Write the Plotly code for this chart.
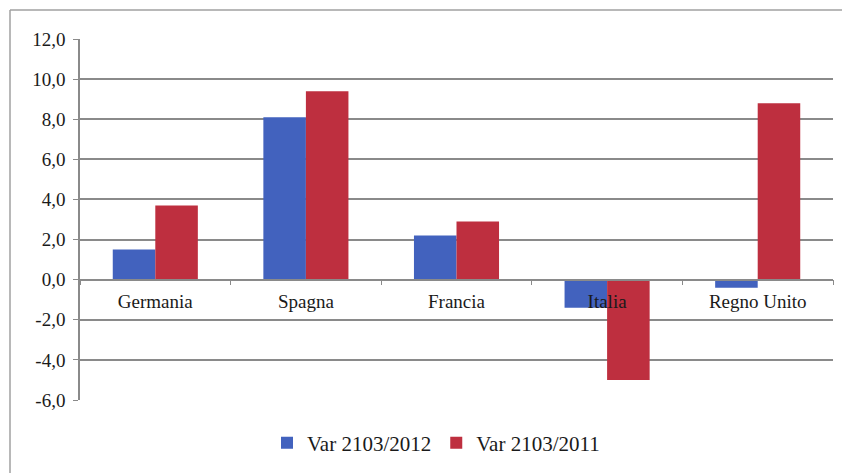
import plotly.graph_objects as go

categories = ["Germania", "Spagna", "Francia", "Italia", "Regno Unito"]
var_2012 = [1.5, 8.1, 2.2, -1.4, -0.4]
var_2011 = [3.7, 9.4, 2.9, -5.0, 8.8]
series_names = ["Var 2103/2012", "Var 2103/2011"]
y_ticks = [-6, -4, -2, 0, 2, 4, 6, 8, 10, 12]
y_ticktext = [("%.1f" % v).replace(".", ",") for v in y_ticks]

OFF = 8  # page body margin
W, H = 850 - OFF, 473 - OFF
L, T = 80 - OFF, 39 - OFF
R = W - (833 - OFF)
B = H - (400 - OFF)
pw, ph = W - L - R, H - T - B

def px_x(x):
    return (x - OFF - L) / pw

def px_y(y):
    return (H - B - (y - OFF)) / ph

fig = go.Figure()
fig.add_trace(go.Bar(x=categories, y=var_2012, name=series_names[0],
                     marker=dict(color="#4262BE", line=dict(width=0))))
fig.add_trace(go.Bar(x=categories, y=var_2011, name=series_names[1],
                     marker=dict(color="#BE2F3F", line=dict(width=0))))

font = dict(family="Liberation Serif, Times New Roman, serif", size=18, color="#1a1a1a")

fig.update_layout(
    width=W, height=H,
    margin=dict(l=L, r=R, t=T, b=B, autoexpand=False),
    paper_bgcolor="white", plot_bgcolor="white",
    font=font,
    barmode="group", bargap=0.435, bargroupgap=0,
    showlegend=True,
    legend=dict(orientation="h", x=px_x(436), xanchor="center",
                y=px_y(443), yanchor="middle", font=dict(size=21),
                itemwidth=30, tracegroupgap=0),
    xaxis=dict(anchor="free", position=1/3, showline=True, linecolor="#8a8a8a",
               linewidth=1.5, ticks="outside", tickson="boundaries", ticklen=5,
               tickcolor="#8a8a8a", showgrid=False, ticklabelstandoff=5,
               tickfont=dict(size=19)),
    yaxis=dict(range=[-6, 12], tickvals=y_ticks, ticktext=y_ticktext,
               showline=True, linecolor="#8a8a8a", linewidth=1.5,
               ticks="outside", ticklen=5, tickcolor="#8a8a8a",
               showgrid=True, gridcolor="#8a8a8a", gridwidth=1.5,
               zeroline=False, tickfont=dict(size=19), ticklabelstandoff=4),
    shapes=[
        dict(type="line", xref="paper", yref="paper", x0=px_x(10), x1=px_x(860),
             y0=px_y(10), y1=px_y(10), line=dict(color="#a0a0a0", width=1.5)),
        dict(type="line", xref="paper", yref="paper", x0=px_x(10), x1=px_x(10),
             y0=px_y(10), y1=px_y(490), line=dict(color="#a0a0a0", width=1.5)),
    ],
)

fig.write_html("out.html")
